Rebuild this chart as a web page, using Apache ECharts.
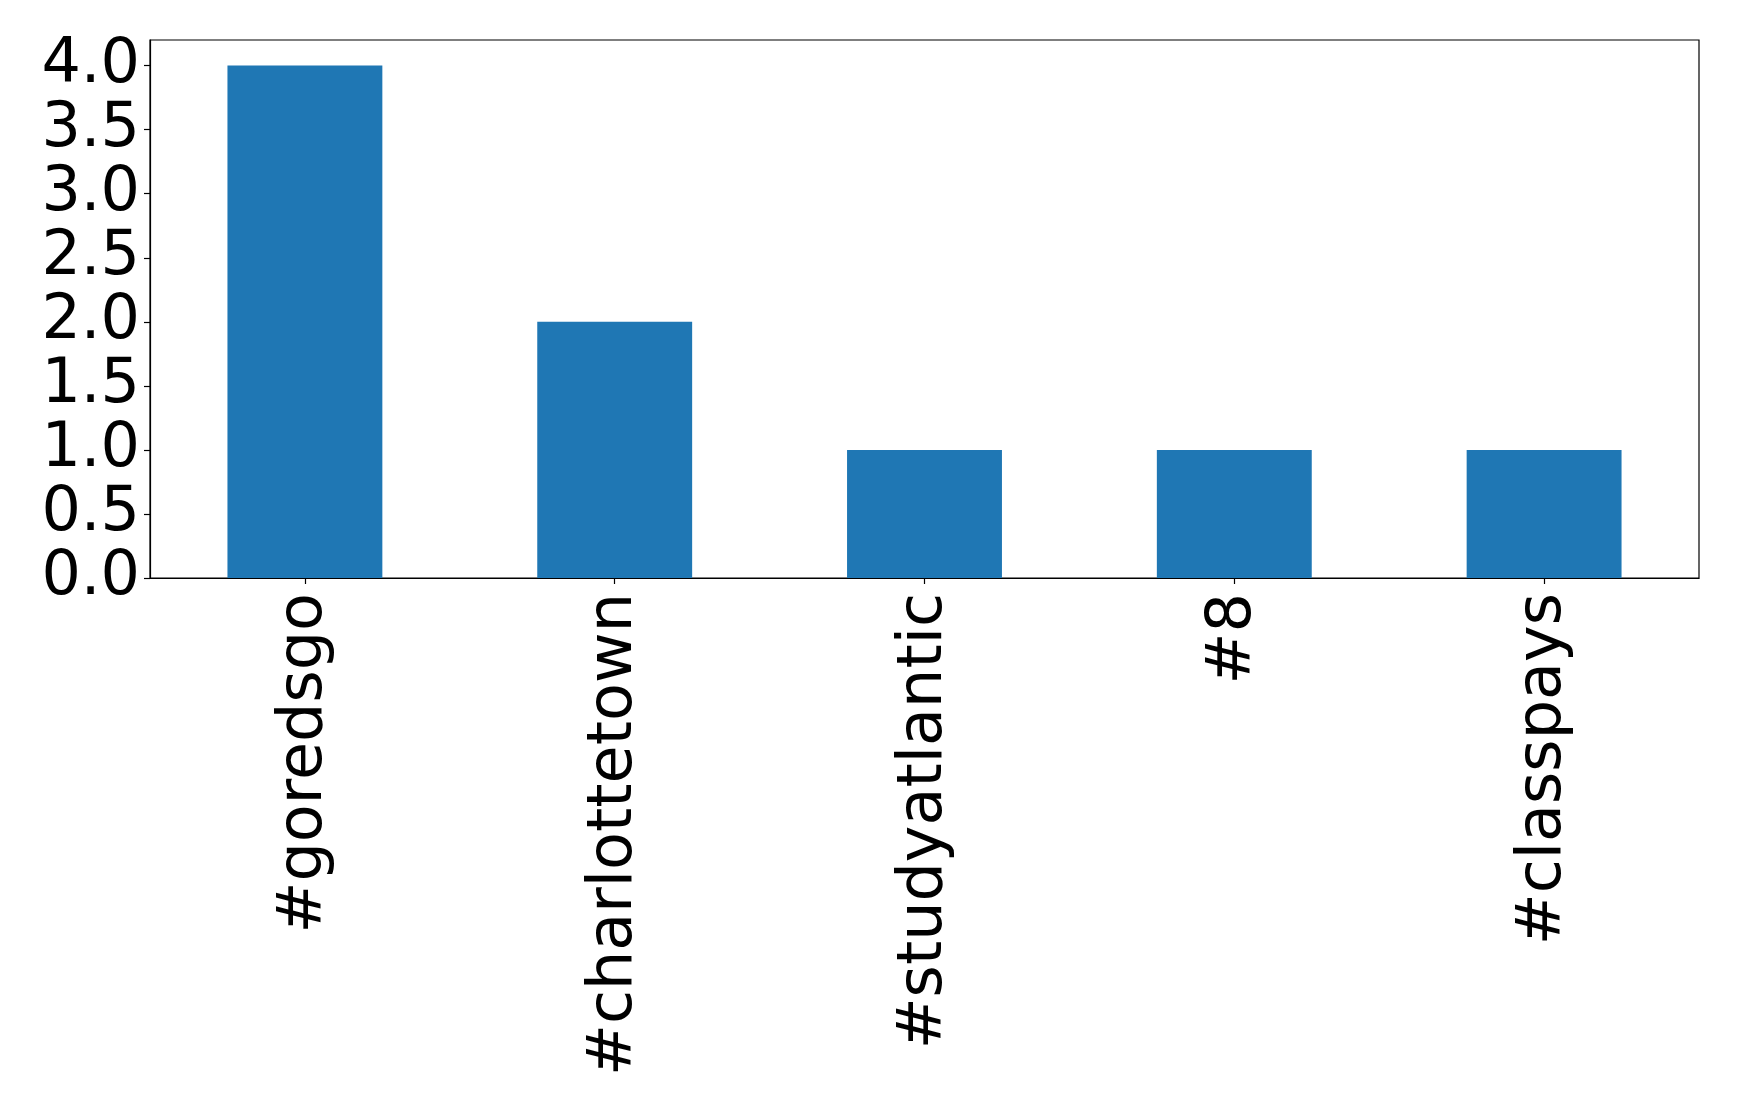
<!DOCTYPE html>
<html>
<head>
<meta charset="utf-8">
<script src="https://cdn.jsdelivr.net/npm/echarts@6/dist/echarts.min.js"></script>
<style>
html,body{margin:0;padding:0;background:#fff;}
#chart{width:1739px;height:1115px;}
</style>
</head>
<body>
<div id="chart"></div>
<script>
const categories = ['#goredsgo', '#charlottetown', '#studyatlantic', '#8', '#classpays'];
const counts = [4, 2, 1, 1, 1];
const yTicks = [0, 0.5, 1.0, 1.5, 2.0, 2.5, 3.0, 3.5, 4.0];

const chart = echarts.init(document.getElementById('chart'));
const font = 'DejaVu Sans';
chart.setOption({
  animation: false,
  backgroundColor: '#fff',
  grid: {
    left: 150, right: 40, top: 40, bottom: 537,
    show: true, borderColor: '#000', borderWidth: 1.2, backgroundColor: 'transparent'
  },
  xAxis: {
    type: 'category',
    data: categories,
    boundaryGap: true,
    axisLine: { show: true, lineStyle: { color: '#000', width: 1.2 } },
    axisTick: { show: true, alignWithLabel: true, length: 6, lineStyle: { color: '#000', width: 1.2 } },
    axisLabel: {
      rotate: 90, margin: 15, color: '#000', fontFamily: font, fontSize: 62, interval: 0
    },
    splitLine: { show: false }
  },
  yAxis: {
    type: 'value',
    min: 0, max: 4.2, interval: 0.5,
    axisLine: { show: true, lineStyle: { color: '#000', width: 1.2 } },
    axisTick: { show: true, length: 6, lineStyle: { color: '#000', width: 1.2 }, customValues: yTicks },
    axisLabel: {
      color: '#000', fontFamily: font, fontSize: 62, margin: 10,
      customValues: yTicks,
      formatter: v => v.toFixed(1)
    },
    splitLine: { show: false }
  },
  series: [{
    type: 'bar',
    data: counts,
    barWidth: '50%',
    itemStyle: { color: '#1f77b4' }
  }]
});
</script>
</body>
</html>
